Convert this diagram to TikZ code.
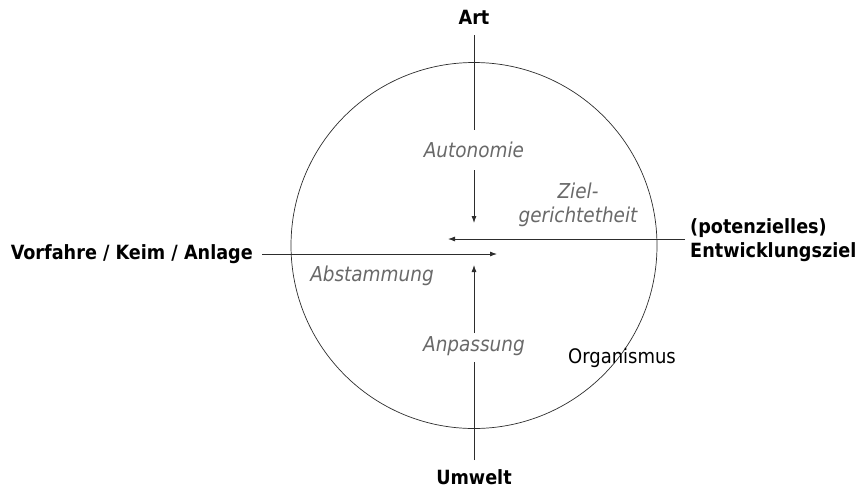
\documentclass[tikz,border=0pt]{standalone}
\usepackage{fontspec}
\setmainfont{DejaVu Sans Condensed}
\usetikzlibrary{arrows.meta}
\definecolor{lbl}{RGB}{105,105,105}
\definecolor{ln}{RGB}{45,45,45}
\begin{document}
\begin{tikzpicture}[x=1pt,y=-1pt,
  bold/.style={font=\fontsize{19.6}{24}\selectfont\bfseries, text=black, inner sep=0pt},
  plain/.style={font=\fontsize{20}{24}\selectfont, text=black, inner sep=0pt},
  lab/.style={font=\fontsize{20.5}{24}\selectfont\itshape, text=lbl, inner sep=0pt},
  conn/.style={draw=ln, line width=0.8pt},
  arr/.style={conn, -{Latex[length=7pt,width=5pt]}}]
\useasboundingbox (0,0) rectangle (867,488);
\node[draw=ln, line width=0.7pt, circle, minimum size=366pt, inner sep=0pt] (org) at (474,245.5) {};
\node[bold] (art) at (474,17) {Art};
\node[lab] (auto) at (474,150) {Autonomie};
\node[lab, align=center] (ziel) at (578,205) {Ziel-\\gerichtetheit};
\node[bold, align=left, anchor=west] (ent) at (690,240) {(potenzielles)\\Entwicklungsziel};
\node[bold, anchor=east] (vor) at (253,254) {Vorfahre / Keim / Anlage};
\node[lab] (abst) at (372,276) {Abstammung};
\node[lab] (anp) at (474,346) {Anpassung};
\node[plain] (orgl) at (622,358) {Organismus};
\node[bold] (umw) at (474,477) {Umwelt};
\coordinate (t1) at (474,35);
\coordinate (t2) at (474,130);
\coordinate (t3) at (474,170);
\coordinate (t4) at (474,223);
\coordinate (r1) at (685,239);
\coordinate (r2) at (448,239);
\coordinate (l1) at (262,254);
\coordinate (l2) at (497,254);
\coordinate (b1) at (474,460);
\coordinate (b2) at (474,362);
\coordinate (b3) at (474,333);
\coordinate (b4) at (474,265);
\draw[conn] (t1) -- (t2);
\draw[arr] (t3) -- (t4);
\draw[arr] (r1) -- (r2);
\draw[arr] (l1) -- (l2);
\draw[conn] (b1) -- (b2);
\draw[arr] (b3) -- (b4);
\end{tikzpicture}
\end{document}
